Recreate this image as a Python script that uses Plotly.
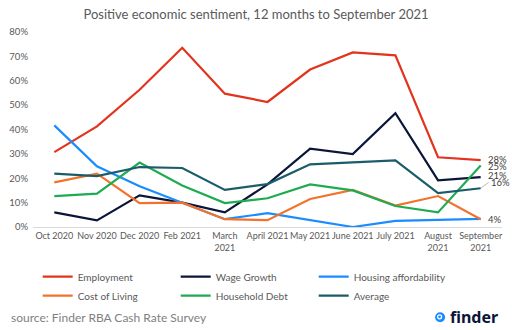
import plotly.graph_objects as go

months = ["Oct 2020", "Nov 2020", "Dec 2020", "Feb 2021", "March<br>2021", "April 2021",
          "May 2021", "June 2021", "July 2021", "August<br>2021", "September<br>2021"]

employment = [30.7, 41.3, 56.3, 73.5, 54.7, 51.3, 64.6, 71.6, 70.4, 28.6, 27.4]
wage_growth = [6.0, 2.7, 13.0, 10.0, 6.0, 17.5, 32.1, 29.9, 46.7, 19.1, 20.5]
housing = [41.7, 24.9, 16.7, 10.1, 3.2, 5.7, 2.7, 0.0, 2.5, 2.8, 3.3]
cost_of_living = [18.3, 21.9, 9.8, 10.0, 3.2, 2.8, 11.5, 15.2, 8.8, 12.7, 3.2]
household_debt = [12.7, 13.7, 26.4, 17.0, 9.8, 11.8, 17.5, 15.0, 8.6, 6.0, 25.2]
average = [21.9, 20.9, 24.6, 24.2, 15.2, 17.6, 25.7, 26.4, 27.3, 13.9, 15.9]

series = [
    ("Employment", employment, "#E2341D"),
    ("Cost of Living", cost_of_living, "#F2722B"),
    ("Wage Growth", wage_growth, "#0B1539"),
    ("Household Debt", household_debt, "#1EAB52"),
    ("Housing affordability", housing, "#1A8CFF"),
    ("Average", average, "#1B5C6B"),
]
legend_order = ["Employment", "Wage Growth", "Housing affordability",
                "Cost of Living", "Household Debt", "Average"]

end_labels = [("28%", employment[-1], 1, False), ("25%", household_debt[-1], -1, False),
              ("21%", wage_growth[-1], 2, False), ("16%", average[-1], 6, True),
              ("4%", cost_of_living[-1], 0, False)]

fig = go.Figure()
lookup = {n: (v, c) for n, v, c in series}
for name in legend_order:
    vals, col = lookup[name]
    fig.add_trace(go.Scatter(x=months, y=vals, mode="lines", name=name,
                             line=dict(color=col, width=2.2)))

for txt, val, dy, arrow in end_labels:
    if arrow:
        fig.add_annotation(x=months[-1], y=val, xref="x", yref="y", text=txt,
                           showarrow=True, arrowhead=0, arrowwidth=0.8, arrowcolor="#A6A6A6",
                           ax=8, ay=-6, xanchor="left", yanchor="middle",
                           font=dict(family="Lato", size=9.5, color="#404040"))
    else:
        fig.add_annotation(x=months[-1], y=val, xref="x", yref="y", text=txt,
                           showarrow=False, xanchor="left", yanchor="middle",
                           xshift=5, yshift=dy,
                           font=dict(family="Lato", size=9.5, color="#404040"))

fig.add_annotation(text="source: Finder RBA Cash Rate Survey", xref="paper", yref="paper",
                   x=-0.051, y=-0.463, xanchor="left", yanchor="middle", showarrow=False,
                   font=dict(family="Lato", size=12, color="#7F7F7F"))
fig.add_annotation(text="<b>finder</b>", xref="paper", yref="paper",
                   x=0.884, y=-0.463, xanchor="left", yanchor="middle", showarrow=False,
                   font=dict(family="Noto Sans", size=16, color="#0B1539"))
fig.add_shape(type="circle", xref="paper", yref="paper", xsizemode="pixel", ysizemode="pixel",
              xanchor=0.868, yanchor=-0.463, x0=-5, x1=5, y0=-5, y1=5,
              fillcolor="#1A8CFF", line=dict(width=0))
fig.add_shape(type="circle", xref="paper", yref="paper", xsizemode="pixel", ysizemode="pixel",
              xanchor=0.868, yanchor=-0.463, x0=-2.5, x1=1.5, y0=-1.5, y1=2.5,
              fillcolor="rgba(0,0,0,0)", line=dict(width=1.2, color="white"))

fig.update_layout(
    width=512, height=330,
    margin=dict(l=30, r=9, t=32, b=103),
    paper_bgcolor="white", plot_bgcolor="white",
    title=dict(text="Positive economic sentiment, 12 months to September 2021",
               x=0.5, xanchor="center", y=1 - 14 / 330, yanchor="middle",
               font=dict(family="Lato", size=13, color="#595959")),
    xaxis=dict(type="category", range=[-0.5, 10.5], showgrid=False, showline=True,
               linecolor="#D9D9D9", linewidth=1, ticks="", zeroline=False,
               tickfont=dict(family="Lato", size=9, color="#595959"), tickangle=0),
    yaxis=dict(range=[0, 80], dtick=10, ticksuffix="%", showgrid=False, zeroline=False,
               ticks="", ticklabelstandoff=4,
               tickfont=dict(family="Lato", size=9.5, color="#595959")),
    legend=dict(orientation="h", x=0.01, y=-0.18, xanchor="left", yanchor="top",
                entrywidth=93, entrywidthmode="pixels",
                font=dict(family="Lato", size=10, color="#595959"),
                bgcolor="rgba(0,0,0,0)", tracegroupgap=0),
    showlegend=True,
)

fig.write_html("out.html")
